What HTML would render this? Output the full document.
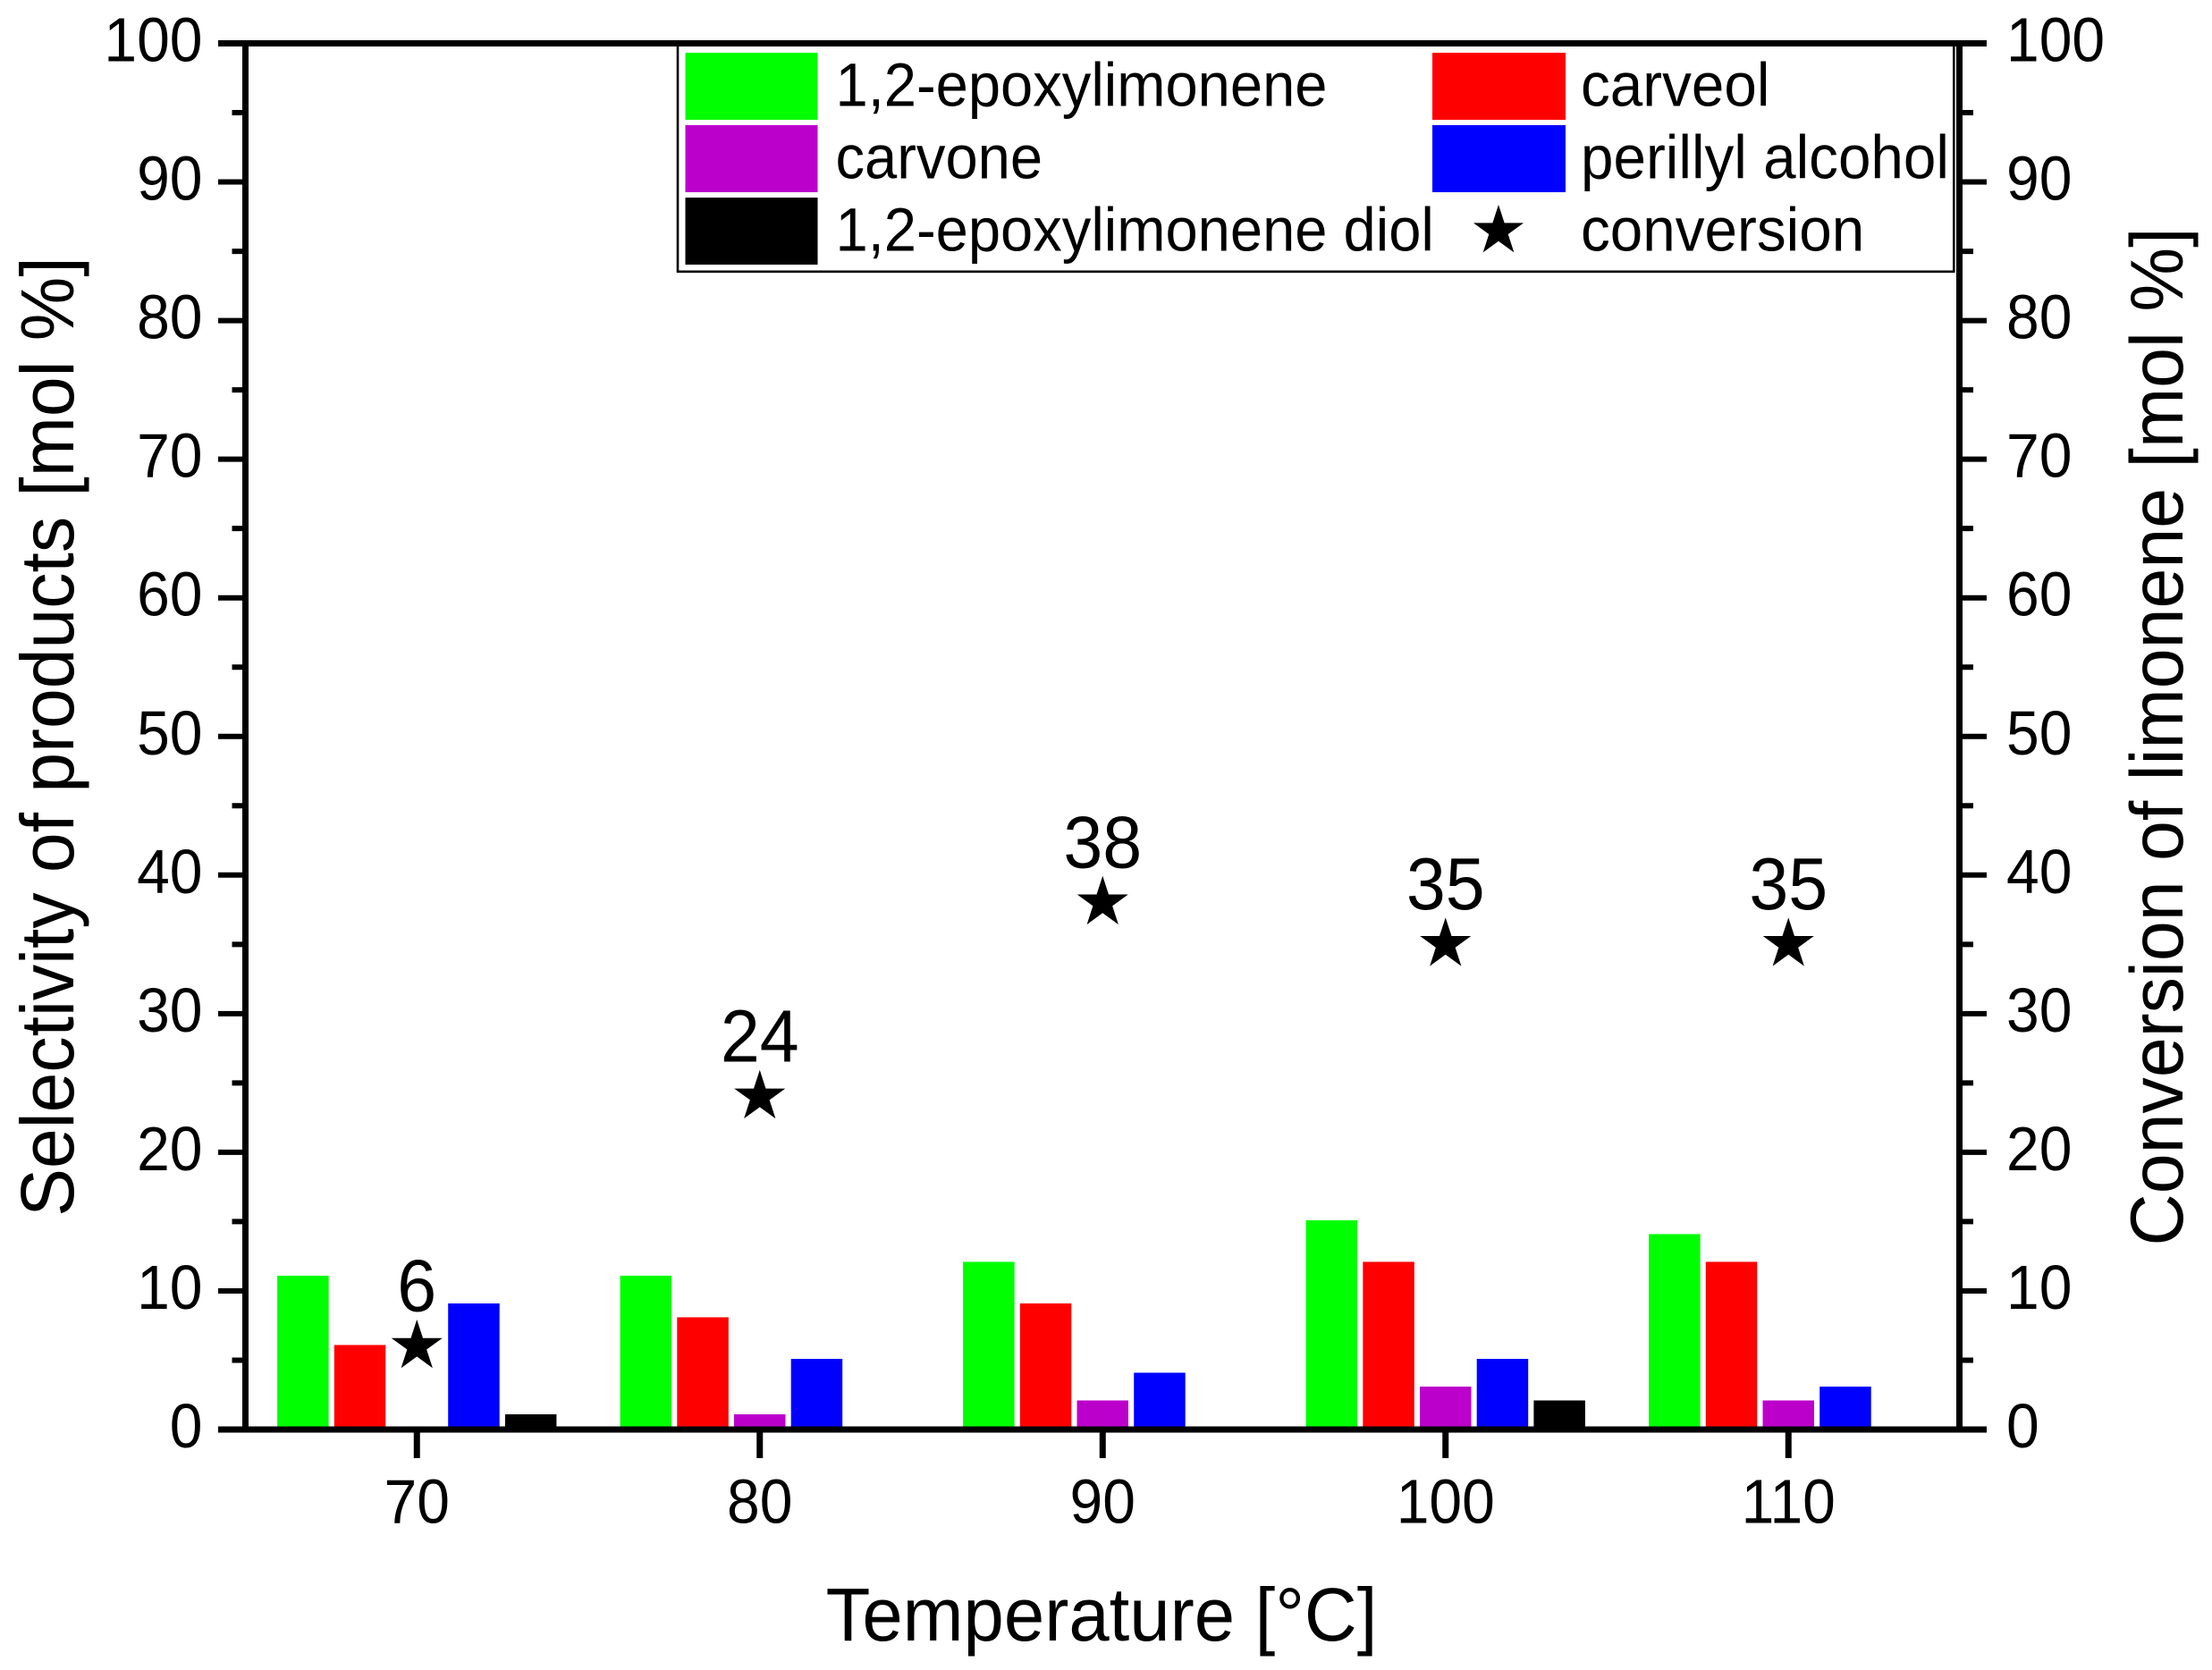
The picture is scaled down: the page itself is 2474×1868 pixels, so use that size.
<!DOCTYPE html>
<html lang="en">
<head>
<meta charset="utf-8">
<title>Selectivity and conversion vs temperature</title>
<style>
html,body{margin:0;padding:0;background:#fff;}
svg{display:block;}
text{font-family:"Liberation Sans",Arial,sans-serif;fill:#000;}
</style>
</head>
<body>
<svg id="chart" xmlns="http://www.w3.org/2000/svg" width="2474" height="1868" viewBox="0 0 2474 1868">
  <rect x="0" y="0" width="2474" height="1868" fill="#ffffff"/>
  <g id="bars"></g>
  <g id="legend">
    <rect x="758" y="50" width="1427.3" height="253.8" fill="#ffffff" stroke="#000" stroke-width="2.6"/>
    <rect x="766.5" y="59" width="148" height="75" fill="#00ff00"/>
    <rect x="766.5" y="140" width="148" height="75" fill="#bc00cc"/>
    <rect x="766.5" y="221" width="148" height="75" fill="#000000"/>
    <rect x="1602" y="59" width="149" height="75" fill="#ff0000"/>
    <rect x="1602" y="140" width="149" height="75" fill="#0000ff"/>
    <polygon id="legend-star" fill="#000"/>
    <text transform="translate(934.5,118.5) scale(1,1.05)" font-size="65.1">1,2-epoxylimonene</text>
    <text transform="translate(934.5,199.5) scale(1,1.05)" font-size="65.1">carvone</text>
    <text transform="translate(934.5,280.5) scale(1,1.05)" font-size="65.1">1,2-epoxylimonene diol</text>
    <text transform="translate(1768,118.5) scale(1,1.05)" font-size="65.6">carveol</text>
    <text transform="translate(1768,199.5) scale(1,1.05)" font-size="65.6">perillyl alcohol</text>
    <text transform="translate(1768,280.5) scale(1,1.05)" font-size="65.6">conversion</text>
  </g>
  <g id="axes"></g>
  <g id="conversion"></g>
  <text transform="translate(1232,1835) scale(1,1.04)" font-size="81.5" text-anchor="middle">Temperature [°C]</text>
  <text transform="translate(82,824) rotate(-90) scale(1,1.05)" font-size="80.5" text-anchor="middle">Selectivity of products [mol %]</text>
  <text transform="translate(2441,824) rotate(-90) scale(1,1.04)" font-size="80.7" text-anchor="middle">Conversion of limonene [mol %]</text>
</svg>
<script>
var temperatures = [70, 80, 90, 100, 110];
var epoxylimonene = [11, 11, 12, 15, 14];
var carveol = [6, 8, 9, 12, 12];
var carvone = [0, 1, 2, 3, 2];
var perillylAlcohol = [9, 5, 4, 5, 3];
var epoxylimoneneDiol = [1, 0, 0, 2, 0];
var conversion = [6, 24, 38, 35, 35];
var yMajorTicks = [0, 10, 20, 30, 40, 50, 60, 70, 80, 90, 100];
var yMinorTicks = [5, 15, 25, 35, 45, 55, 65, 75, 85, 95];

var NS = 'http://www.w3.org/2000/svg';
var xScale = function (t) { return 274.5 + (t - 65) * (2192 - 274.5) / 50; };
var yScale = function (v) { return 1599 - v * (1599 - 48.5) / 100; };

function make(tag, parent, attrs, txt) {
  var el = document.createElementNS(NS, tag);
  for (var k in attrs) { el.setAttribute(k, attrs[k]); }
  if (txt !== undefined) { el.textContent = txt; }
  parent.appendChild(el);
  return el;
}
function starPoints(cx, cy, R) {
  var pts = [];
  for (var i = 0; i < 10; i++) {
    var r = i % 2 === 0 ? R : R * 0.382;
    var a = -Math.PI / 2 + i * Math.PI / 5;
    pts.push((cx + r * Math.cos(a)).toFixed(2) + ',' + (cy + r * Math.sin(a)).toFixed(2));
  }
  return pts.join(' ');
}

document.getElementById('legend-star').setAttribute('points', starPoints(1676, 258.5, 29.5));

var seriesNames = ['epoxylimonene', 'carveol', 'carvone', 'perillyl-alcohol', 'diol'];
var seriesColors = ['#00ff00', '#ff0000', '#bc00cc', '#0000ff', '#000000'];
var seriesValues = [epoxylimonene, carveol, carvone, perillylAlcohol, epoxylimoneneDiol];
var barPitch = 63.7;
var barWidth = 57.5;
var barTopLift = 1.5;
var barsG = document.getElementById('bars');
seriesValues.forEach(function (vals, s) {
  vals.forEach(function (v, i) {
    var cx = xScale(temperatures[i]) + (s - 2) * barPitch;
    var top = v > 0 ? yScale(v) - barTopLift : yScale(0);
    var bar = make('rect', barsG, {
      x: cx - barWidth / 2,
      y: top,
      width: barWidth,
      height: Math.max(0, yScale(0) - top),
      fill: seriesColors[s]
    });
    
    
  });
});

var axes = document.getElementById('axes');
var lineFrames = [
  ['left-y-axis-line', 274.5, 45, 274.5, 1602.5],
  ['right-y-axis-line', 2191.5, 45, 2191.5, 1602.5]
];
lineFrames.forEach(function (f) {
  var ln = make('line', axes, { x1: f[1], y1: f[2], x2: f[3], y2: f[4], stroke: '#000', 'stroke-width': 7 });
  
  
});

yMajorTicks.forEach(function (v) {
  var y = yScale(v);
  var w = (v === 0 || v === 100) ? 7 : 6;
  var tl = make('line', axes, { x1: 244, y1: y, x2: 278, y2: y, stroke: '#000', 'stroke-width': w });
  
  
  var tr = make('line', axes, { x1: 2188, y1: y, x2: 2222, y2: y, stroke: '#000', 'stroke-width': w });
  
  
  if (v === 0 || v === 100) {
    var span = make('line', axes, { x1: 244, y1: y, x2: 2222, y2: y, stroke: '#000', 'stroke-width': 7 });
    
    
  }
  var ll = make('text', axes, { transform: 'translate(226.5,' + (y + 20) + ') scale(1,1.05)', 'font-size': 66, 'text-anchor': 'end' }, String(v));
  
  
  var rl = make('text', axes, { transform: 'translate(2244,' + (y + 20) + ') scale(1,1.05)', 'font-size': 66 }, String(v));
  
  
});
yMinorTicks.forEach(function (v) {
  var y = yScale(v);
  var tl = make('line', axes, { x1: 259.5, y1: y, x2: 278, y2: y, stroke: '#000', 'stroke-width': 6 });
  
  
  var tr = make('line', axes, { x1: 2188, y1: y, x2: 2207, y2: y, stroke: '#000', 'stroke-width': 6 });
  
  
});
temperatures.forEach(function (t) {
  var x = xScale(t);
  var tk = make('line', axes, { x1: x, y1: 1599, x2: x, y2: 1631, stroke: '#000', 'stroke-width': 7 });
  
  
  var lb = make('text', axes, { transform: 'translate(' + x + ',1703.5) scale(1,1.05)', 'font-size': 66, 'text-anchor': 'middle' }, String(t));
  
  
});

var convG = document.getElementById('conversion');
conversion.forEach(function (v, i) {
  var x = xScale(temperatures[i]);
  var y = yScale(v);
  var star = make('polygon', convG, { points: starPoints(x, y, 30), fill: '#000' });
  
  
  var lb = make('text', convG, { transform: 'translate(' + x + ',' + (y - 39.5) + ') scale(1,1.04)', 'font-size': 79, 'text-anchor': 'middle' }, String(v));
  
  
});
</script>
</body>
</html>
